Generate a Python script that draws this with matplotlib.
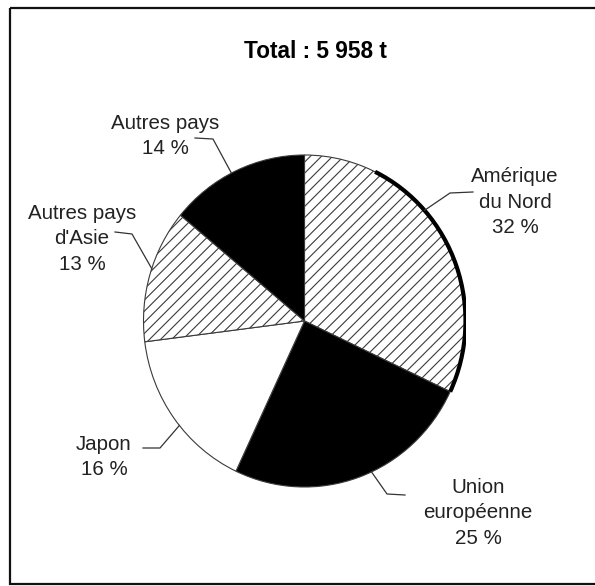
import numpy as np
import matplotlib
matplotlib.use("Agg")
import matplotlib.pyplot as plt
from matplotlib.patches import Rectangle, Arc

plt.rcParams['font.family'] = ['Liberation Sans', 'DejaVu Sans']
plt.rcParams['hatch.linewidth'] = 0.8

# data (clockwise from the top)
regions = ["Amérique\ndu Nord", "Union\neuropéenne", "Japon",
           "Autres pays\nd'Asie", "Autres pays"]
shares = [32, 25, 16, 13, 14]
title = "Total : 5 958 t"

W, H = 595, 586
fig = plt.figure(figsize=(W / 100, H / 100), dpi=100)

# pie is slightly squashed in the scan -> ellipse
cx, cy, rx, ry = 304.5, 321, 161, 166
ax = fig.add_axes([(cx - rx) / W, 1 - (cy + ry) / H, 2 * rx / W, 2 * ry / H])
wedges, _ = ax.pie(shares, startangle=90, counterclock=False, radius=1,
                   wedgeprops=dict(edgecolor='#3a3a3a', linewidth=0.8))
styles = [("white", "///"), ("black", None), ("white", None),
          ("white", "///"), ("black", None)]
for w, (fc, h) in zip(wedges, styles):
    w.set_facecolor(fc)
    w.set_hatch(h)
ax.set_aspect('auto')
ax.set_xlim(-1, 1)
ax.set_ylim(-1, 1)
ax.axis('off')

# thick outer edge on the Amérique du Nord slice
end_ang = 90 - shares[0] * 3.6
ax.add_patch(Arc((0, 0), 2, 2, theta1=end_ang, theta2=64,
                 color='black', lw=3, zorder=5))

# overlay in pixel coordinates for the texts and leader lines
ov = fig.add_axes([0, 0, 1, 1], zorder=3)
ov.set_xlim(0, W)
ov.set_ylim(H, 0)
ov.axis('off')
ov.patch.set_alpha(0)

ov.add_patch(Rectangle((10, 8), W + 10 - 10, 584 - 8, fill=False,
                       edgecolor='#111111', lw=1.6, clip_on=False))

ov.text(315, 52, title, ha='center', va='center', fontsize=16.3,
        fontweight='bold')

# label centre, knee of leader, end of leader, angle where it meets the pie
label_xy = [(515, 202), (478, 513), (104, 457), (82, 239), (165, 136)]
leader_start = [(473, 192), (405, 495), (143, 448), (115, 232), (195, 138)]
leader_knee = [(450, 193), (387, 494), (160, 448), (132, 234), (213, 139)]
leader_ang = [41.8, -65.4, -141, 161.6, 117]

for name, v, lxy, s, k, a in zip(regions, shares, label_xy, leader_start,
                                 leader_knee, leader_ang):
    ov.text(lxy[0], lxy[1], f"{name}\n{v} %", ha='center', va='center',
            multialignment='center', fontsize=14.8, color='#222222',
            linespacing=1.45)
    px = cx + rx * np.cos(np.radians(a))
    py = cy - ry * np.sin(np.radians(a))
    ov.plot([s[0], k[0], px], [s[1], k[1], py], color='#333333', lw=0.9)

fig.savefig("out.png", dpi=100, facecolor='white')
